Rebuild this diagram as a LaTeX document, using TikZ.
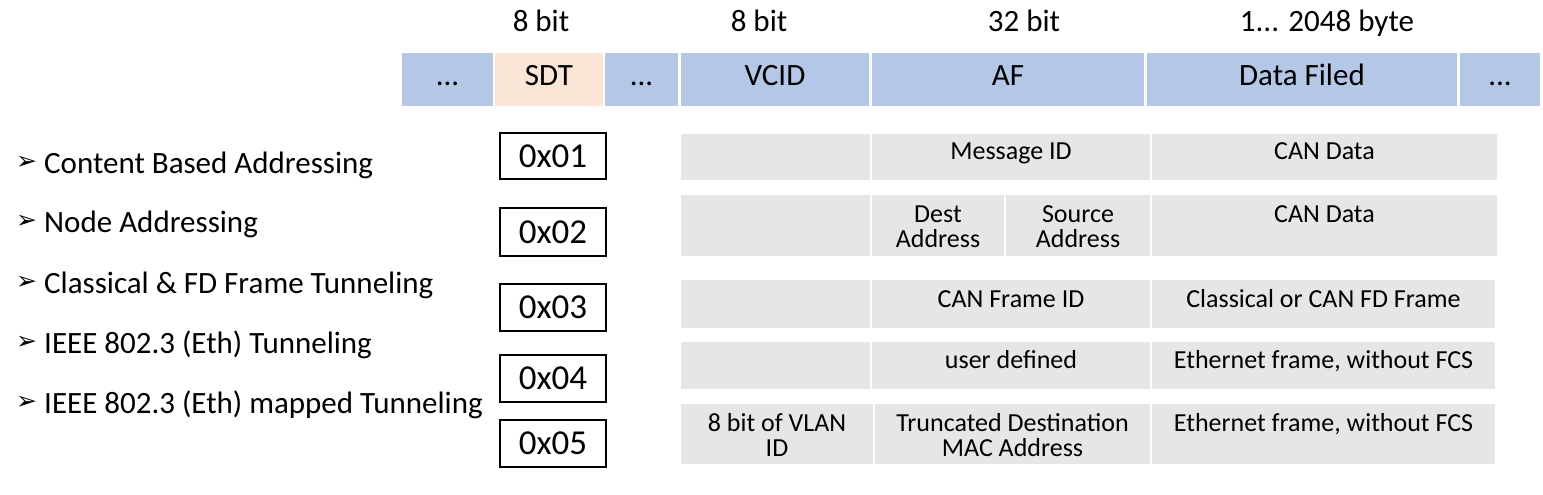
\documentclass[tikz,border=0pt]{standalone}
\usepackage{fontspec}
\setmainfont{Carlito}
\newfontfamily\symfont{DejaVu Sans}
\usetikzlibrary{calc}
\definecolor{barblue}{HTML}{B4C7E7}
\definecolor{barpeach}{HTML}{FBE5D6}
\definecolor{cellgray}{HTML}{E6E6E6}
\newcommand\fcell[6]{\node[#2, minimum width={#5-#3}, minimum height={#6-#4}] (#1) at ({(#3+#5)/2},{(#4+#6)/2}) {};}
\newcommand\ftext[5]{\node[#2, anchor=base] (#1) at ($(#3.north)+(0,#4)$) {#5};}
\begin{document}
\begin{tikzpicture}[x=1pt,y=-1pt,
  cellbase/.style={inner sep=0pt, outer sep=0pt, draw=none, rectangle},
  bluecell/.style={cellbase, fill=barblue},
  peachcell/.style={cellbase, fill=barpeach},
  graycell/.style={cellbase, fill=cellgray},
  bigtext/.style={inner sep=0pt, font=\fontsize{31}{34}\selectfont, text=black},
  smalltext/.style={inner sep=0pt, font=\fontsize{26}{25}\selectfont, align=center, text=black},
  hexbox/.style={draw=black, line width=2pt, fill=white, inner sep=0pt, minimum width=106, font=\fontsize{35}{38}\selectfont},
  bulletmark/.style={inner sep=0pt, font=\symfont\fontsize{25}{28}\selectfont},
]
\useasboundingbox (0,0) rectangle (1543,495);
\fill[white] (0,0) rectangle (1543,495);

% size labels
\node[bigtext, anchor=base] (s1) at (541,32) {8 bit};
\node[bigtext, anchor=base] (s2) at (759,32) {8 bit};
\node[bigtext, anchor=base] (s3) at (1024,32) {32 bit};
\node[bigtext, anchor=base] (s4) at (1327,32) {1... 2048 byte};

% top bar
\fcell{b1}{bluecell}{402}{53}{493}{106}
\fcell{b2}{peachcell}{495}{53}{603}{106}
\fcell{b3}{bluecell}{605}{53}{678}{106}
\fcell{b4}{bluecell}{681}{53}{869}{106}
\fcell{b5}{bluecell}{872}{53}{1144}{106}
\fcell{b6}{bluecell}{1147}{53}{1457}{106}
\fcell{b7}{bluecell}{1460}{53}{1540}{106}
\ftext{t1}{bigtext}{b1}{32}{...}
\ftext{t2}{bigtext}{b2}{32}{SDT}
\ftext{t3}{bigtext}{b3}{32}{...}
\ftext{t4}{bigtext}{b4}{32}{VCID}
\ftext{t5}{bigtext}{b5}{32}{AF}
\ftext{t6}{bigtext}{b6}{32}{Data Filed}
\ftext{t7}{bigtext}{b7}{32}{...}

% row 1
\fcell{r1a}{graycell}{681}{134}{870}{180}
\fcell{r1b}{graycell}{872}{134}{1150}{180}
\fcell{r1c}{graycell}{1152}{134}{1497}{180}
\ftext{r1bt}{smalltext}{r1b}{25}{Message ID}
\ftext{r1ct}{smalltext}{r1c}{25}{CAN Data}
% row 2
\fcell{r2a}{graycell}{681}{195}{870}{256}
\fcell{r2b}{graycell}{872}{195}{1004}{256}
\fcell{r2c}{graycell}{1006}{195}{1150}{256}
\fcell{r2d}{graycell}{1152}{195}{1497}{256}
\ftext{r2bt}{smalltext}{r2b}{52}{Dest\\Address}
\ftext{r2ct}{smalltext}{r2c}{52}{Source\\Address}
\ftext{r2dt}{smalltext}{r2d}{27}{CAN Data}
% row 3
\fcell{r3a}{graycell}{681}{280}{870}{328}
\fcell{r3b}{graycell}{872}{280}{1150}{328}
\fcell{r3c}{graycell}{1152}{280}{1495}{328}
\ftext{r3bt}{smalltext}{r3b}{27}{CAN Frame ID}
\ftext{r3ct}{smalltext}{r3c}{27}{Classical or CAN FD Frame}
% row 4
\fcell{r4a}{graycell}{681}{342}{870}{389}
\fcell{r4b}{graycell}{872}{342}{1150}{389}
\fcell{r4c}{graycell}{1152}{342}{1495}{389}
\ftext{r4bt}{smalltext}{r4b}{26}{user defined}
\ftext{r4ct}{smalltext}{r4c}{26}{Ethernet frame, without FCS}
% row 5
\fcell{r5a}{graycell}{681}{404}{873}{464}
\fcell{r5b}{graycell}{875}{404}{1150}{464}
\fcell{r5c}{graycell}{1152}{404}{1495}{464}
\ftext{r5at}{smalltext}{r5a}{52}{8 bit of VLAN\\ID}
\ftext{r5bt}{smalltext}{r5b}{52}{Truncated Destination\\MAC Address}
\ftext{r5ct}{smalltext}{r5c}{27}{Ethernet frame, without FCS}

% SDT values
\node[hexbox, minimum height=46] (h1) at (553,156) {0x01};
\node[hexbox, minimum height=48] (h2) at (553,232) {0x02};
\node[hexbox, minimum height=47] (h3) at (553,307.5) {0x03};
\node[hexbox, minimum height=47] (h4) at (553,378.5) {0x04};
\node[hexbox, minimum height=47] (h5) at (553,443.5) {0x05};

% bullets
\foreach \i/\yb/\txt in {1/173/Content Based Addressing, 2/232/Node Addressing, 3/293/Classical \& FD Frame Tunneling, 4/353/IEEE 802.3 (Eth) Tunneling, 5/413/IEEE 802.3 (Eth) mapped Tunneling}{
  \node[bulletmark] (m\i) at (26.5,\yb-10) {➢};
  \node[bigtext, anchor=base west] (p\i) at (44,\yb) {\txt};
}
\end{tikzpicture}
\end{document}
